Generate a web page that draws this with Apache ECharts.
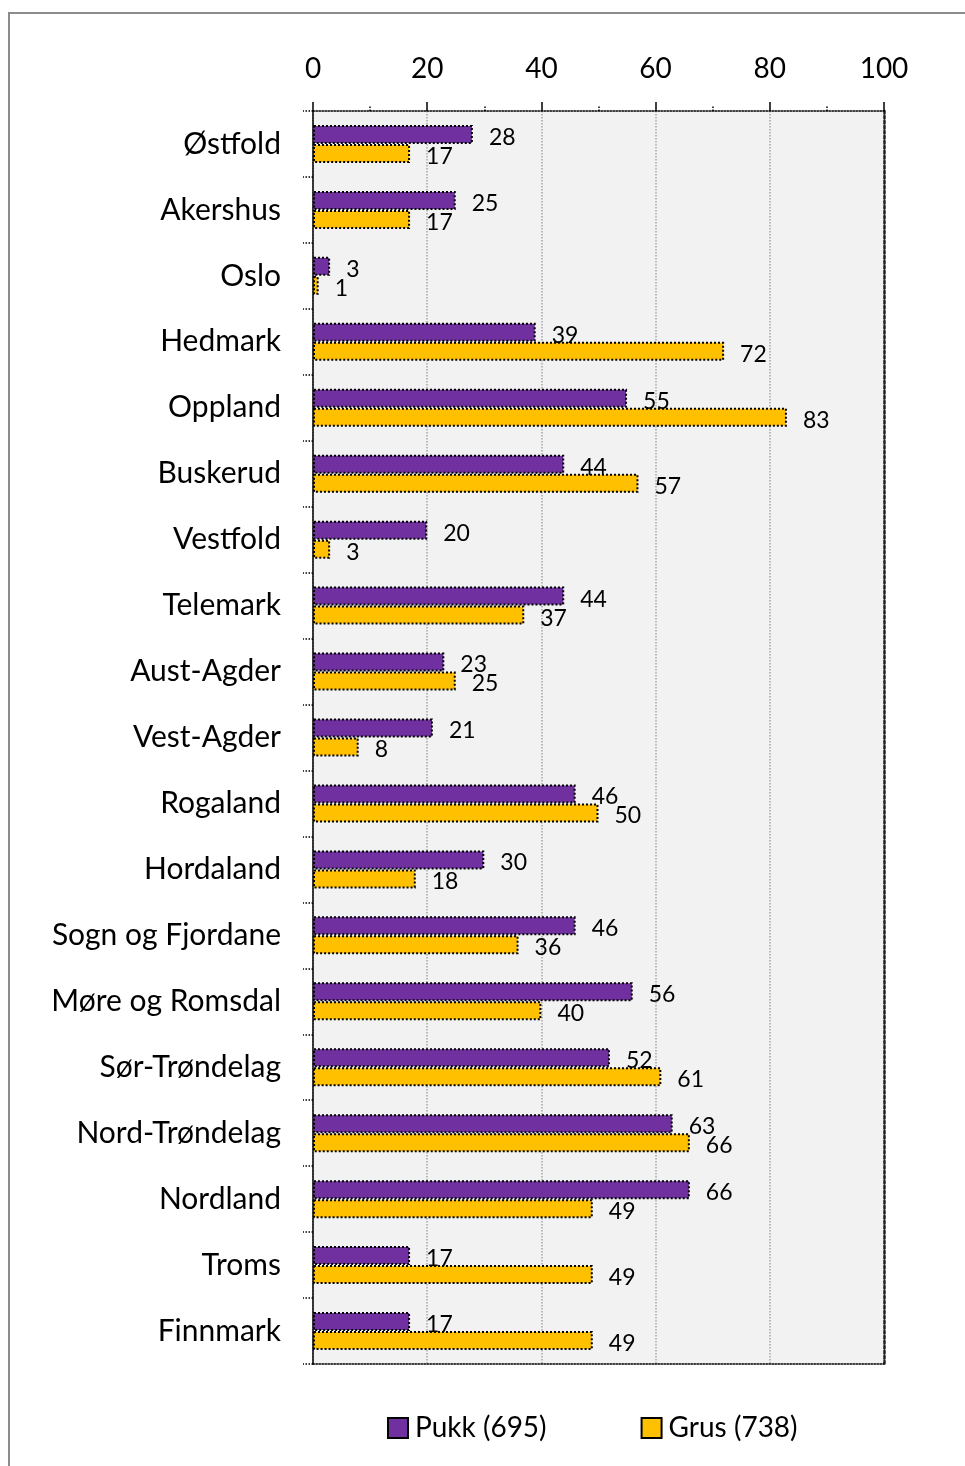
<!DOCTYPE html>
<html>
<head>
<meta charset="utf-8">
<script src="https://cdn.jsdelivr.net/npm/echarts@6/dist/echarts.min.js"></script>
<style>
  html, body { margin: 0; padding: 0; background: #fff; }
  #frame { position: absolute; left: 8px; top: 12px; width: 1000px; height: 1500px;
           border-left: 2px solid #8c8c8c; border-top: 2px solid #8c8c8c; box-sizing: border-box; }
  #chart { position: absolute; left: 0; top: 0; width: 965px; height: 1466px; }
</style>
</head>
<body>
<div id="frame"></div>
<div id="chart"></div>
<script>
// Counties, top to bottom
const counties = ['Østfold', 'Akershus', 'Oslo', 'Hedmark', 'Oppland', 'Buskerud', 'Vestfold',
  'Telemark', 'Aust-Agder', 'Vest-Agder', 'Rogaland', 'Hordaland', 'Sogn og Fjordane',
  'Møre og Romsdal', 'Sør-Trøndelag', 'Nord-Trøndelag', 'Nordland', 'Troms', 'Finnmark'];

// Number of deposits per county
const pukk = [28, 25, 3, 39, 55, 44, 20, 44, 23, 21, 46, 30, 46, 56, 52, 63, 66, 17, 17];
const grus = [17, 17, 1, 72, 83, 57, 3, 37, 25, 8, 50, 18, 36, 40, 61, 66, 49, 49, 49];

const seriesNames = ['Pukk (695)', 'Grus (738)'];
const xTicks = [0, 20, 40, 60, 80, 100];

const FONT = 'Lato, "Open Sans", sans-serif';

const chart = echarts.init(document.getElementById('chart'), null, { renderer: 'canvas' });

const barLabel = {
  show: true,
  position: 'right',
  distance: 16,
  offset: [0, 3],
  color: '#000',
  fontFamily: FONT,
  fontSize: 23
};

chart.setOption({
  backgroundColor: 'transparent',
  animation: false,
  grid: {
    left: 313, right: 81, top: 111, bottom: 102,
    show: true, backgroundColor: '#f2f2f2', borderWidth: 0
  },
  legend: {
    left: 387, top: 1414, padding: 0,
    itemWidth: 20, itemHeight: 20, itemGap: 94,
    icon: 'rect',
    data: seriesNames,
    itemStyle: { borderColor: '#000', borderWidth: 2, borderType: 'solid' },
    textStyle: { fontFamily: FONT, fontSize: 28, color: '#000', padding: [0, 0, 0, 2] }
  },
  xAxis: [
    {
      type: 'value', position: 'top', min: xTicks[0], max: xTicks[xTicks.length - 1], interval: 20,
      axisLine: { show: true, lineStyle: { color: '#000', type: 'dotted', width: 1.5 } },
      axisTick: { show: true, length: 9, lineStyle: { color: '#000', width: 1.5 } },
      minorTick: { show: true, splitNumber: 2, length: 5, lineStyle: { color: '#000', type: 'dotted', width: 1.5 } },
      splitLine: { show: true, lineStyle: { color: '#a6a6a6', type: 'dotted', width: 1.5 } },
      axisLabel: { color: '#000', fontFamily: FONT, fontSize: 28, margin: 28,
                   formatter: v => xTicks.includes(v) ? String(v) : '' }
    },
    {
      type: 'value', position: 'bottom', min: 0, max: 100,
      axisLine: { show: true, lineStyle: { color: '#000', type: 'dotted', width: 1.5 } },
      axisTick: { show: false }, axisLabel: { show: false }, splitLine: { show: false }
    }
  ],
  yAxis: [
    {
      type: 'category', data: counties, inverse: true,
      axisLine: { show: true, onZero: false, lineStyle: { color: '#000', width: 1.5 } },
      axisTick: { show: true, length: 10, lineStyle: { color: '#000', type: 'dotted', width: 1.5 } },
      axisLabel: { color: '#000', fontFamily: FONT, fontSize: 30, margin: 32 }
    },
    {
      type: 'category', data: counties, inverse: true, position: 'right',
      axisLine: { show: true, onZero: false, lineStyle: { color: '#222', type: 'dotted', width: 2.5 } },
      axisTick: { show: false }, axisLabel: { show: false }
    }
  ],
  series: [
    {
      name: seriesNames[0], type: 'bar', data: pukk, barWidth: 19, barGap: '0%',
      itemStyle: { color: '#7030a0', borderColor: '#000', borderWidth: 2, borderType: 'dotted' },
      label: barLabel
    },
    {
      name: seriesNames[1], type: 'bar', data: grus, barWidth: 19, barGap: '0%',
      itemStyle: { color: '#ffc000', borderColor: '#000', borderWidth: 2, borderType: 'dotted' },
      label: barLabel
    }
  ]
});
</script>
</body>
</html>
